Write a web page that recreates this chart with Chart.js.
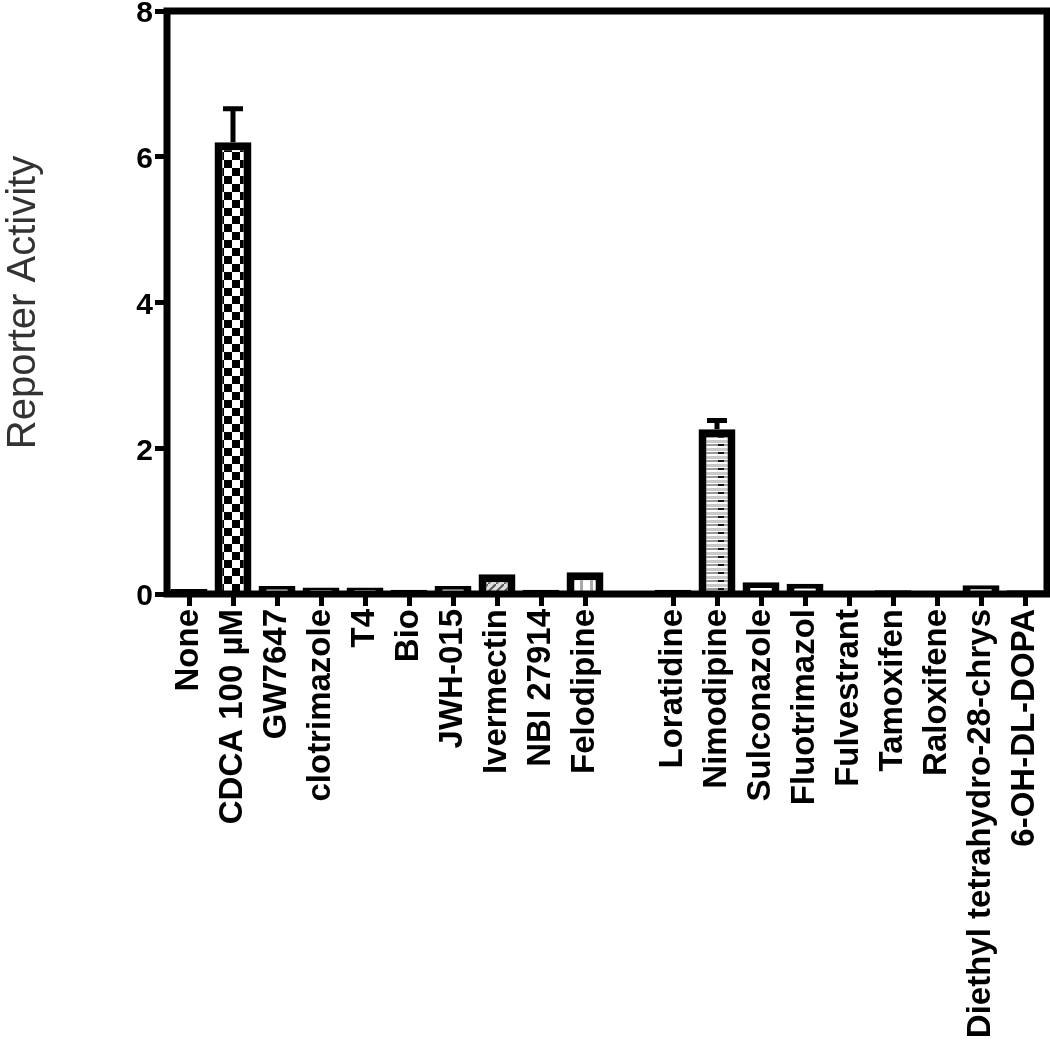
<!DOCTYPE html>
<html>
<head>
<meta charset="utf-8">
<script src="https://cdn.jsdelivr.net/npm/chart.js@4"></script>
<style>
body { margin: 0; background: #fff; }
</style>
</head>
<body>
<canvas id="reporterChart" width="1050" height="1047"></canvas>
<script>
// compounds tested (empty slot = gap between the two groups)
const compounds = [
    'None', 'CDCA 100 \u00b5M', 'GW7647', 'clotrimazole', 'T4', 'Bio', 'JWH-015',
    'Ivermectin', 'NBI 27914', 'Felodipine', '',
    'Loratidine', 'Nimodipine', 'Sulconazole', 'Fluotrimazol', 'Fulvestrant',
    'Tamoxifen', 'Raloxifene', 'Diethyl tetrahydro-28-chrys', '6-OH-DL-DOPA'
];
const activity = [
    0.07, 6.2, 0.11, 0.09, 0.09, 0.06, 0.11, 0.27, 0.06, 0.30, null,
    0.06, 2.26, 0.16, 0.14, 0, 0.05, 0.04, 0.12, 0.05
];
const errorUp = [
    0, 0.46, 0, 0, 0, 0, 0, 0, 0, 0, 0,
    0, 0.12, 0, 0, 0, 0, 0, 0, 0
];
const yTicks = [0, 2, 4, 6, 8];

function makePattern(kind) {
    const c = document.createElement('canvas');
    const g = c.getContext('2d');
    if (kind === 'checker') {
        c.width = 16; c.height = 16;
        g.fillStyle = '#fff'; g.fillRect(0, 0, 16, 16);
        g.fillStyle = '#000';
        g.fillRect(0, 0, 8, 8);
        g.fillRect(8, 8, 8, 8);
    } else if (kind === 'stripes') {
        c.width = 22; c.height = 8;
        g.fillStyle = '#fff'; g.fillRect(0, 0, 22, 8);
        g.fillStyle = '#c8c8c8'; g.fillRect(0, 0, 22, 3);
        g.fillStyle = '#999'; g.fillRect(0, 4, 22, 2);
        g.fillStyle = '#111'; g.fillRect(14, 4, 6, 2);
    } else if (kind === 'hatch') {
        c.width = 8; c.height = 8;
        g.fillStyle = '#ddd'; g.fillRect(0, 0, 8, 8);
        g.strokeStyle = '#555'; g.lineWidth = 2;
        g.beginPath(); g.moveTo(0, 8); g.lineTo(8, 0); g.stroke();
    } else {
        c.width = 10; c.height = 10;
        g.fillStyle = '#fff'; g.fillRect(0, 0, 10, 10);
        g.fillStyle = '#aaa'; g.fillRect(0, 0, 3, 10);
    }
    return g.createPattern(c, 'repeat');
}

const ctx = document.getElementById('reporterChart').getContext('2d');
const fills = compounds.map(name => {
    if (name.startsWith('CDCA')) return makePattern('checker');
    if (name === 'Nimodipine') return makePattern('stripes');
    if (name === 'Ivermectin') return makePattern('hatch');
    if (name === 'Felodipine') return makePattern('shade');
    return '#fff';
});

const errorBars = {
    id: 'errorBars',
    afterDatasetsDraw(chart) {
        const c = chart.ctx;
        const y = chart.scales.y;
        const meta = chart.getDatasetMeta(0);
        c.save();
        c.strokeStyle = '#000';
        c.lineWidth = 5;
        meta.data.forEach((bar, i) => {
            if (!errorUp[i]) return;
            const top = y.getPixelForValue(activity[i] + errorUp[i]);
            c.beginPath();
            c.moveTo(bar.x, bar.y);
            c.lineTo(bar.x, top);
            c.moveTo(bar.x - 10, top);
            c.lineTo(bar.x + 10, top);
            c.stroke();
        });
        c.restore();
    }
};

// plot box, drawn centred on the chart area edges and over the bars
const frame = {
    id: 'frame',
    afterDatasetsDraw(chart) {
        const a = chart.chartArea;
        const c = chart.ctx;
        c.save();
        c.strokeStyle = '#000';
        c.lineWidth = 7;
        c.strokeRect(a.left, a.top, a.right - a.left, a.bottom - a.top);
        c.restore();
    }
};

new Chart(ctx, {
    type: 'bar',
    data: {
        labels: compounds,
        datasets: [{
            data: activity,
            backgroundColor: fills,
            borderColor: '#000',
            borderWidth: 8,
            barPercentage: 0.84,
            categoryPercentage: 1
        }]
    },
    options: {
        responsive: false,
        animation: false,
        layout: { padding: { top: 11, right: 3, left: 0, bottom: 0 } },
        plugins: {
            legend: { display: false },
            tooltip: { enabled: false }
        },
        scales: {
            x: {
                afterFit: scale => {
                    scale.height = 453;
                    scale.paddingLeft = 0;
                    scale.paddingRight = 0;
                },
                grid: {
                    offset: false,
                    drawOnChartArea: false,
                    drawTicks: true,
                    tickLength: 12,
                    tickWidth: 5,
                    tickColor: c => compounds[c.index] === '' ? 'rgba(0,0,0,0)' : '#000'
                },
                border: { display: false },
                ticks: {
                    autoSkip: false,
                    maxRotation: 90,
                    minRotation: 90,
                    padding: 3,
                    color: '#000',
                    font: { family: 'Liberation Sans', size: 33, weight: 'bold' }
                }
            },
            y: {
                min: 0,
                max: 8,
                afterFit: scale => {
                    scale.width = 167;
                    scale.paddingTop = 0;
                    scale.paddingBottom = 0;
                },
                afterBuildTicks: scale => { scale.ticks = yTicks.map(v => ({ value: v })); },
                grid: {
                    drawOnChartArea: false,
                    drawTicks: true,
                    tickLength: 12,
                    tickWidth: 5,
                    tickColor: '#000'
                },
                border: { display: false },
                ticks: {
                    padding: 2,
                    labelOffset: 3,
                    color: '#000',
                    font: { family: 'Liberation Sans', size: 30, weight: 'bold' }
                },
                title: {
                    display: true,
                    text: 'Reporter Activity',
                    color: '#333',
                    padding: { top: 0, bottom: 0 },
                    font: { family: 'Liberation Sans', size: 40, weight: 'normal' }
                }
            }
        }
    },
    plugins: [errorBars, frame]
});
</script>
</body>
</html>
